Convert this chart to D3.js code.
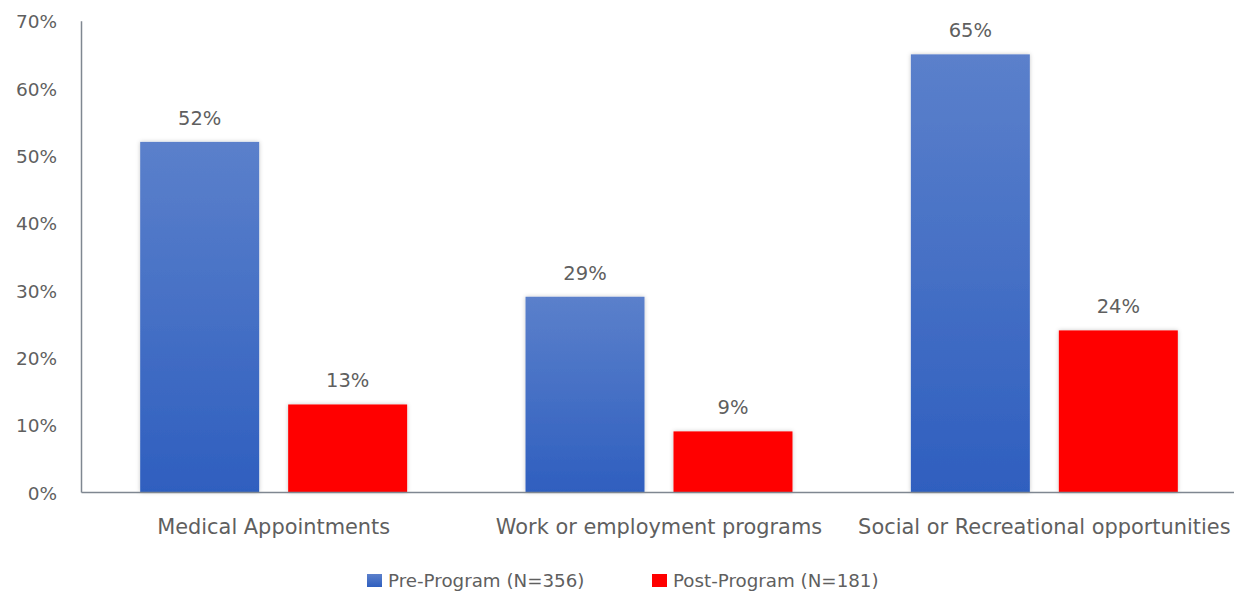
<!DOCTYPE html>
<html>
<head>
<meta charset="utf-8">
<script src="https://cdn.jsdelivr.net/npm/d3@7"></script>
<style>
  html, body { margin: 0; padding: 0; background: #ffffff; }
  svg { display: block; }
  text { font-family: "DejaVu Sans", Verdana, sans-serif; fill: #5f5f5f; }
</style>
</head>
<body>
<svg id="chart" width="1234" height="595"></svg>
<script>
// Share of respondents reporting transportation as a barrier, before and after the program
const categories = ["Medical Appointments", "Work or employment programs", "Social or Recreational opportunities"];
const seriesNames = ["Pre-Program (N=356)", "Post-Program (N=181)"];
const preValues = [52, 29, 65];
const postValues = [13, 9, 24];
const yTicks = [0, 10, 20, 30, 40, 50, 60, 70];

const svg = d3.select("#chart");
const FONT = "'DejaVu Sans', Verdana, sans-serif";
const TEXT_COLOR = "#5f5f5f";

// Gradient for the pre-program bars
const defs = svg.append("defs");
const grad = defs.append("linearGradient")
  .attr("id", "blueGrad").attr("x1", 0).attr("y1", 0).attr("x2", 0).attr("y2", 1);
grad.append("stop").attr("offset", "0%").attr("stop-color", "#5b80cb");
grad.append("stop").attr("offset", "100%").attr("stop-color", "#2f5fbf");

const shadow = defs.append("filter").attr("id", "barShadow")
  .attr("x", "-10%").attr("y", "-10%").attr("width", "120%").attr("height", "120%");
shadow.append("feDropShadow").attr("dx", 0).attr("dy", 0).attr("stdDeviation", 2)
  .attr("flood-color", "#000").attr("flood-opacity", 0.22);

const fills = ["url(#blueGrad)", "#ff0000"];

const plotLeft = 81, plotRight = 1237, plotTop = 20.7, plotBottom = 492;

const y = d3.scaleLinear().domain([0, 70]).range([plotBottom, plotTop]);
const x0 = d3.scaleBand().domain(categories).range([plotLeft, plotRight]).padding(0);
const x1 = d3.scaleBand().domain(seriesNames).range([0, x0.bandwidth()])
  .paddingInner(0.196).paddingOuter(0.4);

const rows = categories.map((c, i) => ({
  category: c,
  values: [
    { series: seriesNames[0], value: preValues[i], fill: fills[0] },
    { series: seriesNames[1], value: postValues[i], fill: fills[1] }
  ]
}));

// Y axis: labels only, plus a vertical rule
const yAxis = d3.axisLeft(y).tickValues(yTicks).tickFormat(d => d + "%").tickSize(0).tickPadding(24);
const yg = svg.append("g").attr("transform", `translate(${plotLeft},0)`).call(yAxis);
yg.select(".domain").attr("stroke", "#7f8791").attr("stroke-width", 1.5);
yg.selectAll("text").attr("font-size", 18.5).attr("dy", "0.38em")
  .style("font-family", FONT).attr("fill", TEXT_COLOR);

// Bars
const groups = svg.append("g").selectAll("g").data(rows).join("g")
  .attr("transform", d => `translate(${x0(d.category)},0)`);

groups.selectAll("rect").data(d => d.values).join("rect")
  .attr("x", d => x1(d.series))
  .attr("y", d => y(d.value))
  .attr("width", x1.bandwidth())
  .attr("height", d => y(0) - y(d.value))
  .attr("fill", d => d.fill)
  .attr("filter", "url(#barShadow)");

// Value labels above each bar
groups.selectAll("text.val").data(d => d.values).join("text")
  .attr("class", "val")
  .attr("x", d => x1(d.series) + x1.bandwidth() / 2)
  .attr("y", d => y(d.value) - 17)
  .attr("text-anchor", "middle")
  .attr("font-size", 19.5)
  .text(d => d.value + "%");

// X axis baseline and category labels
const xAxis = d3.axisBottom(x0).tickSize(0).tickPadding(0);
const xg = svg.append("g").attr("transform", `translate(0,${plotBottom})`).call(xAxis);
xg.select(".domain").attr("stroke", "#7f8791").attr("stroke-width", 1.5);
xg.selectAll("text").attr("font-size", 20.9).attr("y", 41.5).attr("dy", 0)
  .style("font-family", FONT).attr("fill", TEXT_COLOR);

// Legend
const legendItems = [
  { name: seriesNames[0], fill: fills[0], x: 367 },
  { name: seriesNames[1], fill: fills[1], x: 652 }
];
const lg = svg.append("g").selectAll("g").data(legendItems).join("g")
  .attr("transform", d => `translate(${d.x},587)`);
lg.append("rect").attr("x", 0).attr("y", -13).attr("width", 15).attr("height", 13)
  .attr("fill", d => d.fill);
lg.append("text").attr("x", 21).attr("y", 0)
  .attr("font-size", 18.25).text(d => d.name);
</script>
</body>
</html>
